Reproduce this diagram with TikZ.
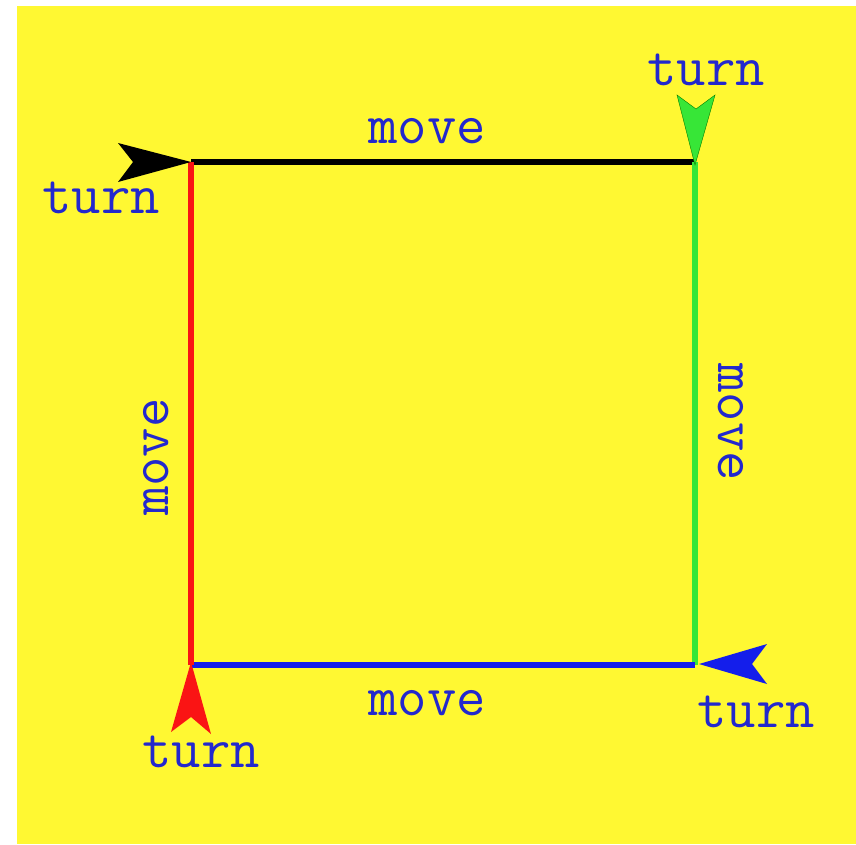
\documentclass[tikz,border=0pt]{standalone}
\usepackage{fontspec}
\definecolor{bgyellow}{RGB}{255,248,50}
\definecolor{txtblue}{RGB}{35,40,205}
\definecolor{lnred}{RGB}{250,20,20}
\definecolor{lngreen}{RGB}{55,230,55}
\definecolor{lnblue}{RGB}{20,30,235}
\begin{document}
\begin{tikzpicture}[x=1pt,y=-1pt,
  lbl/.style={inner sep=0pt, anchor=base, text=txtblue, font=\ttfamily\fontsize{57}{57}\selectfont},
  edge/.style={line width=5.5pt}]
\useasboundingbox (0,0) rectangle (856,844);
\fill[white] (0,0) rectangle (856,844);
\fill[bgyellow] (17,6) rectangle (856,844);
\coordinate (tl) at (191,162);
\coordinate (tr) at (695,162);
\coordinate (br) at (695,665);
\coordinate (bl) at (191,665);
% edges
\draw[edge, black] (tl) -- (tr);
\draw[edge, lngreen] (tr) -- (br);
\draw[edge, lnblue] (br) -- (bl);
\draw[edge, lnred] (bl) -- (tl);
% arrowheads
\fill[black] (tl) -- ++(-73,-19) -- ++(15,19) -- ++(-15,20) -- cycle;
\fill[lngreen, draw=green!50!black, line width=0.4pt] ([yshift=-3pt]tr) -- ++(-18,-70) -- ++(19,14) -- ++(19,-14) -- cycle;
\fill[lnblue] ([xshift=4pt,yshift=1pt]br) -- ++(68,-20) -- ++(-15,20) -- ++(15,20) -- cycle;
\fill[lnred] ([yshift=3pt]bl) -- ++(-20,70) -- ++(20,-15) -- ++(20,17) -- cycle;
% labels
\node[lbl] (mtop) at (427,143) {move};
\node[lbl] (mbot) at (427,715) {move};
\node[lbl, rotate=90] (mleft) at (168,457) {move};
\node[lbl, rotate=-90] (mright) at (718,422) {move};
\node[lbl] (ttl) at (101,213) {turn};
\node[lbl] (ttr) at (706,85) {turn};
\node[lbl] (tbl) at (201,767) {turn};
\node[lbl] (tbr) at (756,727) {turn};
\end{tikzpicture}
\end{document}
